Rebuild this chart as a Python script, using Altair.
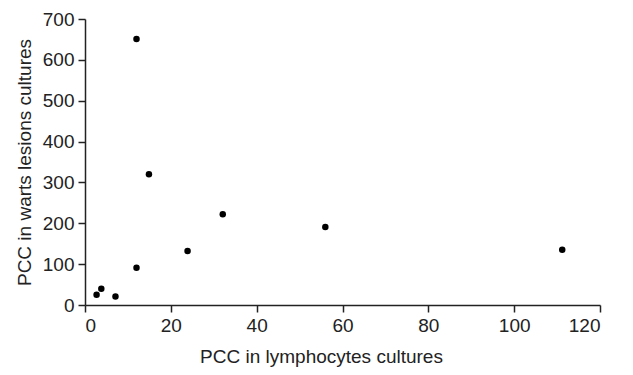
import altair as alt
import pandas as pd

lymph = [2.7, 3.8, 7.1, 12.0, 12.0, 14.9, 23.9, 32.1, 56.0, 111.2]
warts = [25, 40, 21, 91, 651, 320, 132, 222, 191, 135]

df = pd.DataFrame({"x": lymph, "y": warts})

font = "Liberation Sans"

chart = alt.Chart(df).mark_circle(size=42, color="black", opacity=1).encode(
    x=alt.X("x:Q",
            scale=alt.Scale(domain=[0, 120], nice=False, zero=True),
            axis=alt.Axis(values=[0, 20, 40, 60, 80, 100, 120],
                          title="PCC in lymphocytes cultures",
                          titlePadding=12, titleX=236)),
    y=alt.Y("y:Q",
            scale=alt.Scale(domain=[0, 700], nice=False),
            axis=alt.Axis(values=[0, 100, 200, 300, 400, 500, 600, 700],
                          title="PCC in warts lesions cultures",
                          titlePadding=8)),
).properties(
    width=515, height=286,
    autosize=alt.AutoSizeParams(type="none"),
    padding={"left": 77, "top": 11, "right": 25, "bottom": 62},
).configure_view(
    stroke=None
).configure_axis(
    grid=False,
    domainColor="#222222",
    domainWidth=1.5,
    tickColor="#222222",
    tickWidth=1.5,
    tickSize=7,
    labelFont=font,
    labelFontSize=19,
    labelColor="#222222",
    labelPadding=4,
    titleFont=font,
    titleFontSize=19,
    titleFontWeight="normal",
    titleColor="#222222",
)

chart.save("out.html", embed_options={"renderer": "svg", "actions": False})
